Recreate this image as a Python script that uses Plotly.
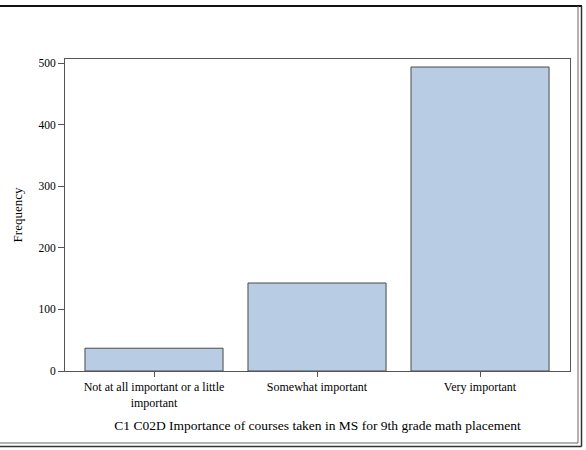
import plotly.graph_objects as go

categories = ["Not at all important or a little<br>important", "Somewhat important", "Very important"]
frequencies = [37, 143, 494]
y_ticks = [0, 100, 200, 300, 400, 500]

W, H = 586, 450
ML, MR, MT, MB = 65, 16, 59, 79
PW, PH = W - ML - MR, H - MT - MB

def px(x):
    return (x - ML) / PW

def py(y):
    return 1 - (y - MT) / PH

fig = go.Figure(go.Bar(
    x=list(range(len(categories))), y=frequencies,
    width=0.847,
    marker=dict(color="#B8CCE4", line=dict(color="#4a4a4a", width=1)),
    hoverinfo="y",
))

font = "Liberation Serif, Times New Roman, serif"
fig.update_layout(
    width=W, height=H,
    margin=dict(l=ML, r=MR, t=MT, b=MB),
    paper_bgcolor="white", plot_bgcolor="white",
    font=dict(family=font, size=11, color="black"),
    showlegend=False,
    xaxis=dict(
        tickmode="array", tickvals=list(range(len(categories))), ticktext=categories,
        range=[-0.546, 2.552], ticks="outside", ticklen=5, tickcolor="#555",
        tickfont=dict(size=12),
        showline=True, linecolor="#555", linewidth=1, mirror=True,
        showgrid=False, zeroline=False,
        title=dict(text="C1 C02D Importance of courses taken in MS for 9th grade math placement",
                   font=dict(size=13.5), standoff=11),
    ),
    yaxis=dict(
        tickvals=y_ticks, range=[0, 507], ticks="outside", ticklen=6, tickcolor="#555",
        tickfont=dict(size=11.5),
        showline=True, linecolor="#555", linewidth=1, mirror=True,
        showgrid=False, zeroline=False,
        title=dict(text="Frequency", font=dict(size=13), standoff=12),
    ),
)

shapes = [
    dict(type="line", xref="paper", yref="paper", x0=px(0), x1=px(582), y0=py(6), y1=py(6),
         line=dict(color="#111", width=2)),
    dict(type="line", xref="paper", yref="paper", x0=px(578), x1=px(578), y0=py(6), y1=py(443),
         line=dict(color="#666", width=1)),
    dict(type="line", xref="paper", yref="paper", x0=px(581.5), x1=px(581.5), y0=py(6), y1=py(446.5),
         line=dict(color="#333", width=1.5)),
    dict(type="line", xref="paper", yref="paper", x0=px(0), x1=px(578), y0=py(443), y1=py(443),
         line=dict(color="#666", width=1)),
    dict(type="line", xref="paper", yref="paper", x0=px(0), x1=px(581.5), y0=py(446.5), y1=py(446.5),
         line=dict(color="#333", width=1.5)),
]
fig.update_layout(shapes=shapes)

fig.write_html("out.html")
